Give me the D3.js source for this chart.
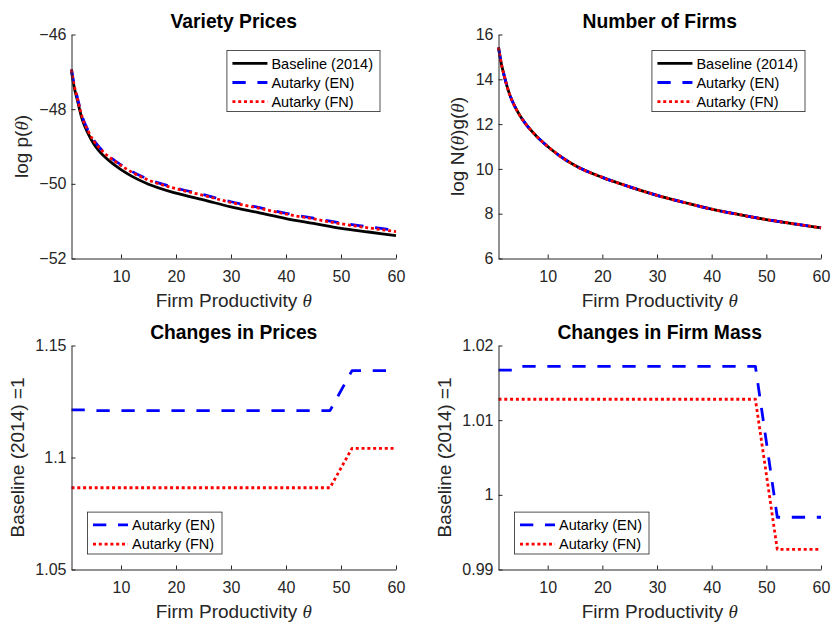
<!DOCTYPE html>
<html>
<head>
<meta charset="utf-8">
<script src="https://d3js.org/d3.v7.min.js"></script>
<style>
  body { margin: 0; background: #fff; }
</style>
</head>
<body>
<div id="chart"></div>
<script>
// autarky counterfactuals, four panels in matlab style
//`````````````````````````````````````````````````````//

// firm productivity grid for the smooth curves
let theta = [1, 1.5, 2, 3, 4, 5, 6, 8, 10, 12, 15, 20, 25, 30, 35, 40, 45, 50, 55, 60]

// variety prices, log p(theta)
let priceBase = [-46.99, -47.42, -47.72, -48.30, -48.65, -48.92, -49.12, -49.40, -49.62, -49.80, -50.01, -50.25, -50.43, -50.62, -50.77, -50.93, -51.06, -51.19, -51.29, -51.39]
let priceEN = [-46.93, -47.36, -47.65, -48.22, -48.56, -48.82, -49.01, -49.28, -49.49, -49.67, -49.88, -50.11, -50.29, -50.48, -50.63, -50.79, -50.92, -51.05, -51.15, -51.25]
let priceFN = [-46.94, -47.37, -47.67, -48.24, -48.58, -48.84, -49.03, -49.30, -49.51, -49.69, -49.90, -50.13, -50.31, -50.50, -50.65, -50.81, -50.94, -51.07, -51.18, -51.28]

// number of firms, log N(theta)g(theta) - the three lines sit on top of each other
let firmsBase = [15.42, 14.72, 14.20, 13.35, 12.78, 12.35, 12.00, 11.45, 11.00, 10.62, 10.15, 9.62, 9.20, 8.82, 8.50, 8.20, 7.96, 7.74, 7.55, 7.37]
let firmsEN = [15.42, 14.72, 14.20, 13.35, 12.78, 12.35, 12.00, 11.45, 11.00, 10.62, 10.15, 9.62, 9.20, 8.82, 8.50, 8.20, 7.96, 7.74, 7.55, 7.37]
let firmsFN = [15.42, 14.72, 14.20, 13.35, 12.78, 12.35, 12.00, 11.45, 11.00, 10.62, 10.15, 9.62, 9.20, 8.82, 8.50, 8.20, 7.96, 7.74, 7.55, 7.37]

// ratios to baseline (2014), only a few breakpoints
let thetaStep = [1, 4, 5, 48, 52, 60]
let priceChgEN = [1.1213, 1.1213, 1.1209, 1.1209, 1.1388, 1.1388]
let priceChgFN = [1.0865, 1.0865, 1.0865, 1.0865, 1.1041, 1.1041]
let massChgEN = [1.0167, 1.0167, 1.0172, 1.0172, 0.9970, 0.9970]
let massChgFN = [1.0128, 1.0128, 1.0128, 1.0128, 0.9927, 0.9927]

// ticks
let xTicks = [10, 20, 30, 40, 50, 60]
let priceTicks = [-52, -50, -48, -46]
let firmsTicks = [6, 8, 10, 12, 14, 16]
let priceChgTicks = [1.05, 1.1, 1.15]
let massChgTicks = [0.99, 1, 1.01, 1.02]

let seriesNames = ['Baseline (2014)', 'Autarky (EN)', 'Autarky (FN)']

// line looks: solid black, blue dashes, red dots
let styles = {
    base: { color: '#000000', dash: null },
    en: { color: '#0000ff', dash: '13.3,11.7' },
    fn: { color: '#ff0000', dash: '3,2.8' }
}

let font = "'Liberation Sans', Arial, Helvetica, sans-serif"
let ink = '#262626'

// axes boxes (px)
let cols = [[71.5, 396], [498.5, 821]]
let rows = [[34.5, 258.5], [345.5, 569.5]]

let svg = d3.select('#chart').append('svg')
    .attr('width', 832)
    .attr('height', 623)
    .style('font-family', font)

let fmt = d3.format('')

let panels = [
    {
        title: 'Variety Prices', col: 0, row: 0, yDomain: [-52, -46], yTicks: priceTicks,
        ylabel: [['log p(', false], ['θ', true], [')', false]], legend: 'ne', x: theta, smooth: true,
        series: [
            { name: seriesNames[0], y: priceBase, style: 'base' },
            { name: seriesNames[1], y: priceEN, style: 'en' },
            { name: seriesNames[2], y: priceFN, style: 'fn' }
        ]
    },
    {
        title: 'Number of Firms', col: 1, row: 0, yDomain: [6, 16], yTicks: firmsTicks,
        ylabel: [['log N(', false], ['θ', true], [')g(', false], ['θ', true], [')', false]], legend: 'ne', x: theta, smooth: true,
        series: [
            { name: seriesNames[0], y: firmsBase, style: 'base' },
            { name: seriesNames[1], y: firmsEN, style: 'en' },
            { name: seriesNames[2], y: firmsFN, style: 'fn' }
        ]
    },
    {
        title: 'Changes in Prices', col: 0, row: 1, yDomain: [1.05, 1.15], yTicks: priceChgTicks,
        ylabel: [['Baseline (2014) =1', false]], legend: 'sw', x: thetaStep, smooth: false,
        series: [
            { name: seriesNames[1], y: priceChgEN, style: 'en' },
            { name: seriesNames[2], y: priceChgFN, style: 'fn' }
        ]
    },
    {
        title: 'Changes in Firm Mass', col: 1, row: 1, yDomain: [0.99, 1.02], yTicks: massChgTicks,
        ylabel: [['Baseline (2014) =1', false]], legend: 'sw', x: thetaStep, smooth: false,
        series: [
            { name: seriesNames[1], y: massChgEN, style: 'en' },
            { name: seriesNames[2], y: massChgFN, style: 'fn' }
        ]
    }
]

// writes text with the theta parts in italic
let addParts = (sel, parts) => {
    parts.forEach(([txt, ital]) => {
        let t = sel.append('tspan').text(txt)
        if (ital) t.style('font-style', 'italic').style('font-family', "'Liberation Serif', 'Times New Roman', serif")
    })
}

let drawPanel = (p) => {
    let [x0, x1] = cols[p.col]
    let [y0, y1] = rows[p.row]
    let xScale = d3.scaleLinear().domain([1, 60]).range([x0, x1])
    let yScale = d3.scaleLinear().domain(p.yDomain).range([y1, y0])
    let g = svg.append('g')

    // lines first, axes on top like matlab
    let line = d3.line()
        .x((d) => xScale(d[0]))
        .y((d) => yScale(d[1]))
        .curve(p.smooth ? d3.curveMonotoneX : d3.curveLinear)

    p.series.forEach((s) => {
        let st = styles[s.style]
        g.append('path')
            .datum(p.x.map((t, i) => [t, s.y[i]]))
            .attr('d', line)
            .attr('fill', 'none')
            .attr('stroke', st.color)
            .attr('stroke-width', 2.8)
            .attr('stroke-dasharray', st.dash)
            .attr('stroke-linejoin', 'round')
    })

    // ticks point inward
    let yAxis = g.append('g')
        .attr('transform', `translate(${x0},0)`)
        .call(d3.axisLeft(yScale).tickValues(p.yTicks).tickFormat(fmt).tickSizeInner(-4).tickSizeOuter(0).tickPadding(5))
    let xAxis = g.append('g')
        .attr('transform', `translate(0,${y1})`)
        .call(d3.axisBottom(xScale).tickValues(xTicks).tickFormat(fmt).tickSizeInner(-4).tickSizeOuter(0).tickPadding(12.6))

    ;[xAxis, yAxis].forEach((ax) => {
        ax.attr('font-family', font).attr('font-size', 16)
        ax.selectAll('.domain, .tick line').attr('stroke', ink).attr('stroke-width', 1)
        ax.selectAll('text').attr('fill', ink)
    })

    // y label sits left of the widest tick label
    let maxTick = d3.max(yAxis.selectAll('text').nodes(), (n) => n.getComputedTextLength())
    let ly = g.append('text')
        .attr('transform', `translate(${x0 - 5 - maxTick - 11.5},${(y0 + y1) / 2}) rotate(-90)`)
        .attr('text-anchor', 'middle')
        .attr('font-size', 19)
        .attr('fill', ink)
    addParts(ly, p.ylabel)

    let lx = g.append('text')
        .attr('x', (x0 + x1) / 2)
        .attr('y', y1 + 48.7)
        .attr('text-anchor', 'middle')
        .attr('font-size', 19)
        .attr('fill', ink)
    addParts(lx, [['Firm Productivity ', false], ['θ', true]])

    g.append('text')
        .attr('x', (x0 + x1) / 2)
        .attr('y', y0 - 6.5)
        .attr('text-anchor', 'middle')
        .attr('font-size', 19.3)
        .attr('font-weight', 'bold')
        .attr('fill', '#000')
        .text(p.title)

    // legend box
    let lg = g.append('g')
    let rowH = 19.2
    let labels = lg.selectAll('text')
        .data(p.series)
        .join('text')
        .attr('font-size', 14.5)
        .attr('fill', '#000')
        .text((d) => d.name)
    let maxW = d3.max(labels.nodes(), (n) => n.getComputedTextLength())
    let w = 44.5 + maxW + 7
    let h = p.series.length * rowH + 3.5
    let bx = p.legend == 'ne' ? x1 - 16 - w : x0 + 16
    let by = p.legend == 'ne' ? y0 + 16 : y1 - 15.5 - h

    lg.insert('rect', 'text')
        .attr('x', bx).attr('y', by)
        .attr('width', w).attr('height', h)
        .attr('fill', '#fff')
        .attr('stroke', ink)
        .attr('stroke-width', 0.8)

    labels
        .attr('x', bx + 44.5)
        .attr('y', (d, i) => by + 12.8 + i * rowH + 5.2)

    lg.selectAll('line')
        .data(p.series)
        .join('line')
        .attr('x1', bx + 5.5)
        .attr('x2', bx + 40.5)
        .attr('y1', (d, i) => by + 12.8 + i * rowH)
        .attr('y2', (d, i) => by + 12.8 + i * rowH)
        .attr('stroke', (d) => styles[d.style].color)
        .attr('stroke-width', 2.8)
        .attr('stroke-dasharray', (d) => styles[d.style].dash)
}

panels.forEach(drawPanel)
</script>
</body>
</html>
